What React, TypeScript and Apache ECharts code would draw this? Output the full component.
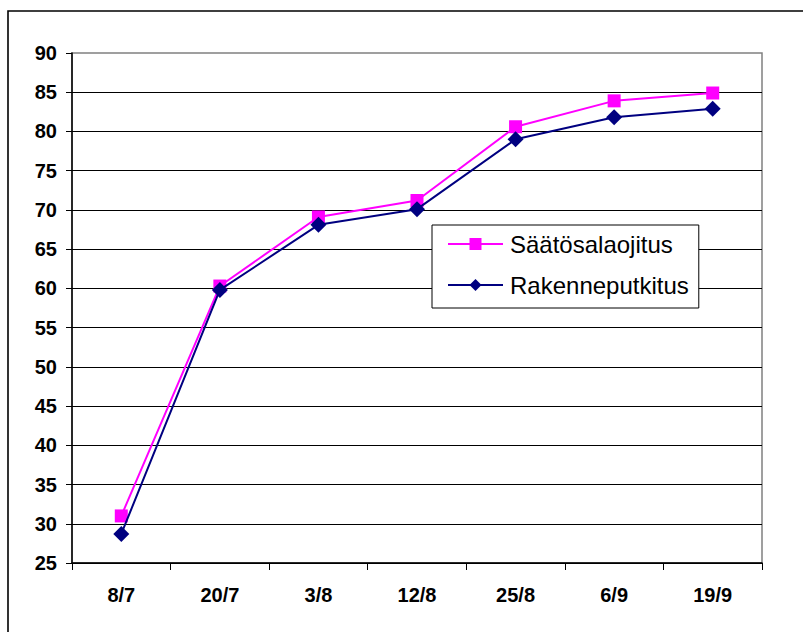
import React, { useEffect, useRef } from "react";
import * as echarts from "echarts";

const categories = ["8/7", "20/7", "3/8", "12/8", "25/8", "6/9", "19/9"];
const saatosalaojitus = [31.0, 60.3, 69.1, 71.2, 80.6, 83.9, 84.9];
const rakenneputkitus = [28.7, 59.8, 68.1, 70.1, 79.0, 81.8, 82.9];
const seriesNames = ["Säätösalaojitus", "Rakenneputkitus"];
const yMin = 25;
const yMax = 90;
const yInterval = 5;

const FONT = "'Liberation Sans', Arial, sans-serif";

export default function App() {
  const ref = useRef<HTMLDivElement>(null);
  useEffect(() => {
    if (!ref.current) return;
    const chart = echarts.init(ref.current, undefined, { renderer: "svg" });
    chart.setOption({
      animation: false,
      backgroundColor: "#ffffff",
      graphic: [
        {
          type: "rect",
          shape: { x: 8, y: 11, width: 830, height: 660 },
          style: { fill: "none", stroke: "#000", lineWidth: 1.6 },
          z: 100,
        },
      ],
      grid: {
        left: 72,
        right: 41,
        top: 53,
        bottom: 69,
        show: true,
        borderColor: "#808080",
        borderWidth: 1.5,
        backgroundColor: "transparent",
      },
      legend: {
        orient: "vertical",
        left: 432,
        top: 225,
        padding: [5, 10, 9, 15],
        itemWidth: 55,
        itemHeight: 15,
        itemGap: 13,
        borderColor: "#000",
        borderWidth: 1,
        backgroundColor: "#fff",
        textStyle: { fontFamily: FONT, fontSize: 24, color: "#000", lineHeight: 28, padding: [0, 0, 0, 2] },
        data: seriesNames,
      },
      xAxis: {
        type: "category",
        data: categories,
        boundaryGap: true,
        axisLine: { lineStyle: { color: "#000", width: 1.5 } },
        axisTick: { show: true, length: 7, lineStyle: { color: "#000" } },
        axisLabel: { fontFamily: FONT, fontSize: 20, fontWeight: "bold", color: "#000", margin: 22 },
      },
      yAxis: {
        type: "value",
        min: yMin,
        max: yMax,
        interval: yInterval,
        axisLine: { show: true, lineStyle: { color: "#000", width: 1.5 } },
        axisTick: { show: true, length: 6, lineStyle: { color: "#000" } },
        axisLabel: { fontFamily: FONT, fontSize: 20, fontWeight: "bold", color: "#000", margin: 15 },
        splitLine: { show: true, showMaxLine: false, lineStyle: { color: "#000", width: 1 } },
      },
      series: [
        {
          name: seriesNames[0],
          type: "line",
          data: saatosalaojitus,
          symbol: "rect",
          symbolSize: 13,
          itemStyle: { color: "#FF00FF" },
          lineStyle: { color: "#FF00FF", width: 2 },
          z: 3,
        },
        {
          name: seriesNames[1],
          type: "line",
          data: rakenneputkitus,
          symbol: "diamond",
          symbolSize: 16,
          itemStyle: { color: "#000080" },
          lineStyle: { color: "#000080", width: 2 },
          z: 4,
        },
      ],
    });
    return () => chart.dispose();
  }, []);
  return (
    <div
      ref={ref}
      style={{ position: "fixed", left: 0, top: 0, width: 803, height: 632, background: "#fff" }}
    />
  );
}
